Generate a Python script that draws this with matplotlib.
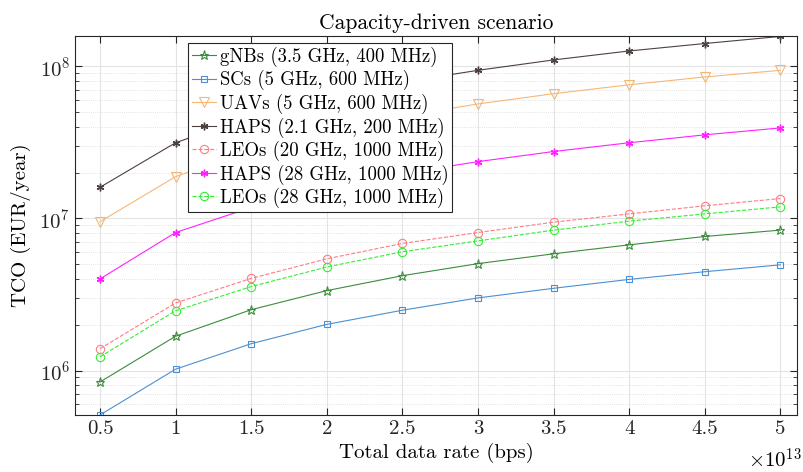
import numpy as np
import matplotlib
matplotlib.use("Agg")
import matplotlib.pyplot as plt
from matplotlib.ticker import LogLocator, NullFormatter

plt.rcParams['font.family'] = ['cmr10', 'DejaVu Serif']
plt.rcParams['mathtext.fontset'] = 'cm'
plt.rcParams['axes.formatter.use_mathtext'] = True

rate = [0.5, 1, 1.5, 2, 2.5, 3, 3.5, 4, 4.5, 5]  # x 1e13 bps

gnbs = [8.4e5, 1.68e6, 2.51e6, 3.35e6, 4.2e6, 5.04e6, 5.85e6, 6.7e6, 7.6e6, 8.37e6]
scs = [5.1e5, 1.02e6, 1.5e6, 2.01e6, 2.49e6, 3.0e6, 3.47e6, 3.97e6, 4.46e6, 4.95e6]
uavs = [9.5e6, 1.88e7, 2.83e7, 3.77e7, 4.7e7, 5.65e7, 6.6e7, 7.55e7, 8.5e7, 9.4e7]
haps21 = [1.6e7, 3.14e7, 4.7e7, 6.3e7, 7.85e7, 9.4e7, 1.1e8, 1.26e8, 1.41e8, 1.57e8]
leos20 = [1.39e6, 2.78e6, 4.03e6, 5.42e6, 6.84e6, 8.07e6, 9.44e6, 1.07e7, 1.21e7, 1.35e7]
haps28 = [4.0e6, 8.07e6, 1.18e7, 1.57e7, 1.97e7, 2.36e7, 2.75e7, 3.14e7, 3.54e7, 3.93e7]
leos28 = [1.23e6, 2.47e6, 3.56e6, 4.79e6, 6.03e6, 7.11e6, 8.37e6, 9.59e6, 1.07e7, 1.19e7]

labels = ['gNBs (3.5 GHz, 400 MHz)', 'SCs (5 GHz, 600 MHz)', 'UAVs (5 GHz, 600 MHz)',
          'HAPS (2.1 GHz, 200 MHz)', 'LEOs (20 GHz, 1000 MHz)', 'HAPS (28 GHz, 1000 MHz)',
          'LEOs (28 GHz, 1000 MHz)']

fig = plt.figure(figsize=(8.04, 4.72), dpi=100)
ax = fig.add_axes([75/804, 1-415/472, 722/804, 379/472])

x = np.array(rate) * 1e13
asterisk = (6, 2, 0)
ax.plot(x, gnbs, '-*', color='#3c8c3c', lw=0.8, ms=6.5, mfc='none', mew=0.8, label=labels[0])
ax.plot(x, scs, '-s', color='#4a90d2', lw=0.8, ms=4.5, mfc='none', mew=0.8, label=labels[1])
ax.plot(x, uavs, '-v', color='#f7b774', lw=0.8, ms=6.5, mfc='none', mew=0.8, label=labels[2])
ax.plot(x, haps21, '-', marker=asterisk, color='#4f4040', lw=0.8, ms=5.5, mew=1.0, label=labels[3])
ax.plot(x, leos20, '--o', color='#ff7c84', lw=0.8, ms=6, mfc='none', mew=0.8, label=labels[4])
ax.plot(x, haps28, '-', marker=asterisk, color='#ff22ff', lw=0.8, ms=5.5, mew=1.0, label=labels[5])
ax.plot(x, leos28, '--o', color='#33ee33', lw=0.8, ms=6, mfc='none', mew=0.8, label=labels[6])

ax.set_yscale('log')
ax.set_ylim(5.1e5, 1.58e8)
ax.set_xlim(0.335e13, 5.11e13)
ax.set_xticks(x)
ax.set_xticklabels(['0.5', '1', '1.5', '2', '2.5', '3', '3.5', '4', '4.5', '5'])
ax.yaxis.set_minor_locator(LogLocator(base=10, subs=np.arange(2, 10)))
ax.yaxis.set_minor_formatter(NullFormatter())

ax.grid(True, which='major', color='#e3e3e3', lw=0.8)
ax.grid(True, which='minor', axis='y', color='#d8d8d8', lw=0.6, ls=':')
ax.set_axisbelow(True)
ax.tick_params(which='both', direction='in', top=True, right=True, labelsize=15, colors='#262626')
ax.tick_params(which='major', length=5)
ax.tick_params(which='minor', length=3)
for s in ax.spines.values():
    s.set_color('#262626')
    s.set_linewidth(0.8)

ax.set_title('Capacity-driven scenario', fontsize=15.5, pad=5)
ax.set_xlabel('Total data rate (bps)', fontsize=15, labelpad=4)
ax.set_ylabel('TCO (EUR/year)', fontsize=15, labelpad=6)
fig.text(802/804, 1-468/472, r'$\times10^{13}$', ha='right', va='baseline', fontsize=15)

leg = ax.legend(loc='upper left', bbox_to_anchor=(113/722, 1-7/379), fontsize=13.5,
                handlelength=1.3, handletextpad=0.2, borderpad=0.2, labelspacing=0.18,
                fancybox=False, framealpha=1, edgecolor='#262626', borderaxespad=0)
leg.get_frame().set_linewidth(0.8)

fig.savefig('out.png', dpi=100)
